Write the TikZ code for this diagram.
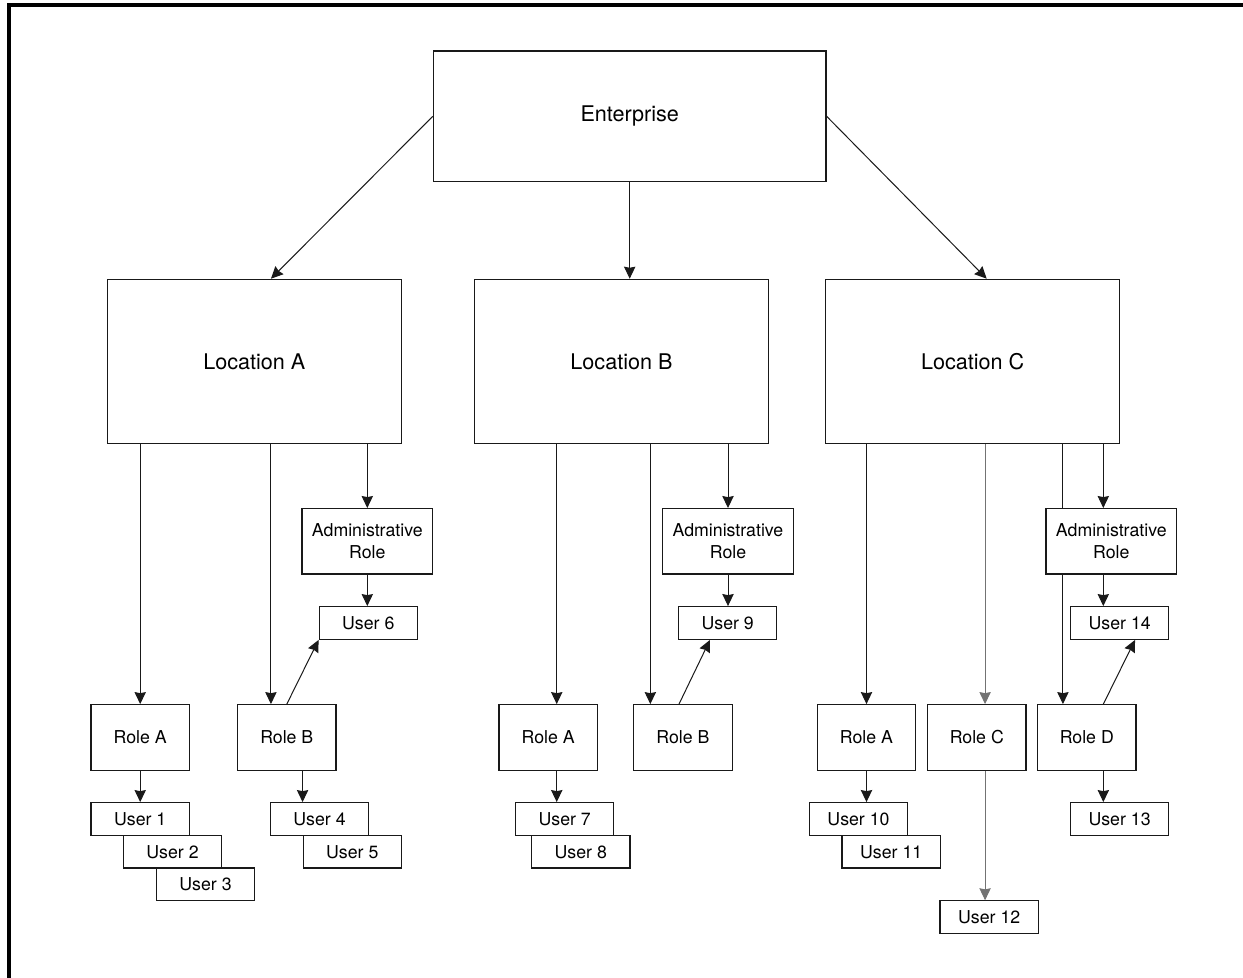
\documentclass[tikz,border=0pt]{standalone}
\usepackage{fontspec}
\setmainfont{TeX Gyre Heros}
\usetikzlibrary{arrows.meta,backgrounds}

\tikzset{
  box/.style={draw=black!90,line width=0.9pt,fill=white,inner sep=0pt,align=center,font=\fontsize{13.3}{16.3}\selectfont},
  bigbox/.style={box,minimum width=220.7pt,minimum height=123pt,font=\fontsize{16.2}{19}\selectfont},
  rolebox/.style={box,minimum width=73.7pt,minimum height=49.2pt},
  adminbox/.style={box,minimum width=98pt,minimum height=49pt},
  userbox/.style={box,minimum width=73.7pt,minimum height=24.5pt},
  arr/.style={draw=black!90,line width=0.75pt,-{Stealth[length=9pt,width=8.5pt,inset=0.8pt]}},
  plain/.style={draw=black!90,line width=0.75pt}
}

\begin{document}
\begin{tikzpicture}[x=0.75pt,y=0.75pt,yscale=-1,xscale=1]
    \useasboundingbox (0,0) rectangle (1243,978);
    \draw[line width=3pt] (9.3,978) -- (9.3,5.3) -- (1243,5.3);

    \node[bigbox,minimum width=294.5pt,minimum height=98pt] (ent) at (629.7,116.3) {Enterprise};
    \node[bigbox] (locA) at (254.3,361.3) {Location A};
    \node[bigbox] (locB) at (621.5,361.3) {Location B};
    \node[bigbox] (locC) at (972.7,361.3) {Location C};

    \node[rolebox] (rAA) at (140.2,737.5) {Role A};
    \node[rolebox] (rAB) at (286.8,737.5) {Role B};
    \node[adminbox] (aA) at (367.3,541.3) {Administrative\\Role};
    \node[userbox] (u6) at (368.3,623) {User 6};
    \node[userbox] (u1) at (140.2,819) {User 1};
    \node[userbox] (u2) at (172.5,851.7) {User 2};
    \node[userbox] (u3) at (205.5,884.3) {User 3};
    \node[userbox] (u4) at (319.5,819) {User 4};
    \node[userbox] (u5) at (352.3,851.7) {User 5};

    \node[rolebox] (rBA) at (548.2,737.5) {Role A};
    \node[rolebox] (rBB) at (683,737.5) {Role B};
    \node[adminbox] (aB) at (728,541.3) {Administrative\\Role};
    \node[userbox] (u9) at (727.7,623) {User 9};
    \node[userbox] (u7) at (564.7,819) {User 7};
    \node[userbox] (u8) at (580.8,851.7) {User 8};

    \node[rolebox] (rCA) at (866.5,737.5) {Role A};
    \node[rolebox] (rCC) at (976.8,737.5) {Role C};
    \node[rolebox] (rCD) at (1086.8,737.5) {Role D};
    \node[adminbox] (aC) at (1111.3,541.3) {Administrative\\Role};
    \node[userbox] (u14) at (1119.7,623) {User 14};
    \node[userbox] (u10) at (858.5,819) {User 10};
    \node[userbox] (u11) at (891.2,851.7) {User 11};
    \node[userbox] (u12) at (989.2,917.2) {User 12};
    \node[userbox] (u13) at (1119.6,819) {User 13};

    \draw[arr] (ent.west) -- ([xshift=12.5pt]locA.north);
    \draw[arr] (ent.south) -- (ent.south |- locB.north);
    \draw[arr] (ent.east) -- ([xshift=10.5pt]locC.north);

    \draw[arr] (rAA.north |- locA.south) -- (rAA.north);
    \draw[arr] ([xshift=-11.9pt]rAB.north |- locA.south) -- ([xshift=-11.9pt]rAB.north);
    \draw[arr] (aA.north |- locA.south) -- (aA.north);
    \draw[arr] (aA.south) -- (aA.south |- u6.north);
    \draw[arr] (rAB.north) -- (u6.south west);
    \draw[arr] (rAA.south) -- (u1.north);
    \draw[arr] (u5.west |- rAB.south) -- (u5.west |- u4.north);

    \draw[arr] ([xshift=6.4pt]rBA.north |- locB.south) -- ([xshift=6.4pt]rBA.north);
    \draw[arr] ([xshift=6.4pt]rBA.south) -- ([xshift=6.4pt]rBA.south |- u7.north);
    \draw[arr] ([xshift=-24.5pt]rBB.north |- locB.south) -- ([xshift=-24.5pt]rBB.north);
    \draw[arr] (aB.north |- locB.south) -- (aB.north);
    \draw[arr] (aB.south) -- (aB.south |- u9.north);
    \draw[arr] ([xshift=-3pt]rBB.north) -- ([xshift=-13.3pt]u9.south);

    \draw[arr] (rCA.north |- locC.south) -- (rCA.north);
    \draw[arr] (rCA.south) -- (rCA.south |- u10.north);
    \draw[arr,draw=black!55] ([xshift=6.2pt]rCC.north |- locC.south) -- ([xshift=6.2pt]rCC.north);
    \draw[arr,draw=black!55] ([xshift=6.2pt]rCC.south) -- ([xshift=6.2pt]rCC.south |- u12.north);
    \begin{scope}[on background layer]
      \draw[arr] ([xshift=-17.9pt]rCD.north |- locC.south) -- ([xshift=-17.9pt]rCD.north);
    \end{scope}
    \draw[arr] ([xshift=-6pt]aC.north |- locC.south) -- ([xshift=-6pt]aC.north);
    \draw[arr] ([xshift=-6pt]aC.south) -- ([xshift=-6pt]aC.south |- u14.north);
    \draw[arr] ([xshift=12.4pt]rCD.north) -- ([xshift=11.5pt]u14.south);
    \draw[arr] ([xshift=12.4pt]rCD.south) -- ([xshift=12.4pt]rCD.south |- u13.north);
  \end{tikzpicture}
\end{document}
